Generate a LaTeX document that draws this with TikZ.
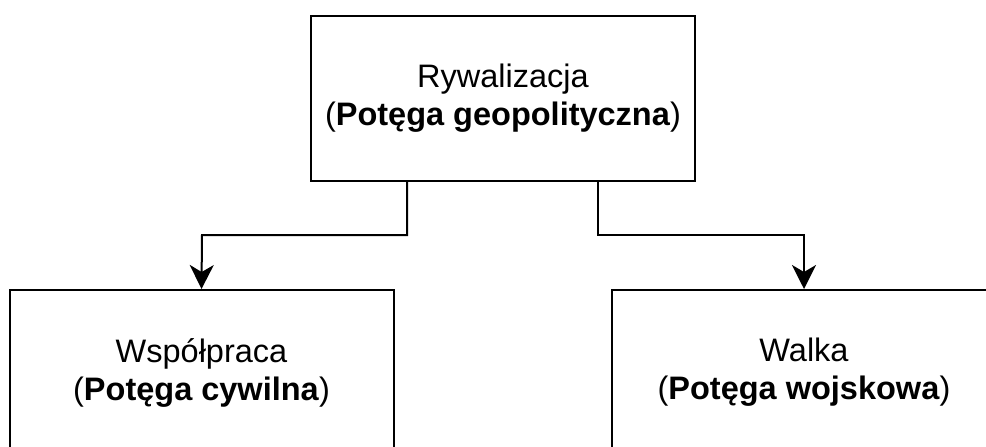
\documentclass[tikz,border=0pt]{standalone}
\usepackage{fontspec}
\setmainfont{Liberation Sans}
\usetikzlibrary{arrows.meta,positioning}
\begin{document}
\begin{tikzpicture}[x=1pt,y=-1pt,
  box/.style={draw=black, line width=2pt, minimum width=384pt, minimum height=165pt,
    align=center, inner sep=0pt, font=\fontsize{32.5}{38}\selectfont},
  conn/.style={draw=black, line width=2pt, -{Stealth[length=24pt,width=24pt,inset=7pt]}}]
  \useasboundingbox (0,0) rectangle (986,447);
  \clip (0,0) rectangle (986,447);
  \node[box] (top) at (503,98.5) {Rywalizacja\\(\textbf{Potęga geopolityczna})};
  \node[box] (left) at (201.5,372.5) {Współpraca\\(\textbf{Potęga cywilna})};
  \node[box] (right) at (804,372.5) {Walka\\(\textbf{Potęga wojskowa})};
  \draw[conn] (top.south -| 407,0) |- (202,235) -- (left.north);
  \draw[conn] (top.south -| 598,0) |- (804,235) -- (right.north);
\end{tikzpicture}
\end{document}
